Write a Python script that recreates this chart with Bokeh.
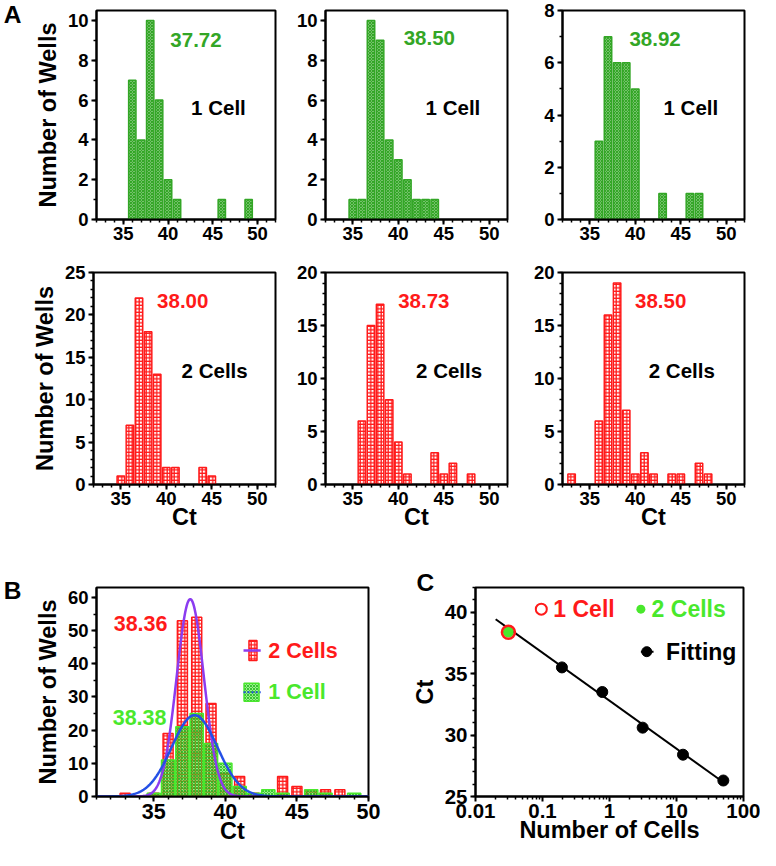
import numpy as np
from bokeh.plotting import figure
from bokeh.layouts import column, row
from bokeh.models import (Label, Range1d, SingleIntervalTicker, FixedTicker,
                          CustomJSTickFormatter, LinearAxis)
from bokeh.embed import file_html
from bokeh.resources import INLINE

FONT = "Liberation Sans"
GREEN_A = "#33a626"
RED = "#ff1a1a"
GREEN_B = "#49e82c"
PURPLE = "#8b3cf0"
BLUE = "#2450e6"

# ---------------- data ----------------
# Panel A, row 1: 1 cell (three runs) -- Ct bin centre / number of wells
a1_ct = [36, 37, 38, 39, 40, 41, 46, 49]
a1_n = [7, 4, 10, 6, 2, 1, 1, 1]
a2_ct = [35, 36, 37, 38, 39, 40, 41, 42, 43, 44]
a2_n = [1, 1, 10, 9, 4, 3, 2, 1, 1, 1]
a3_ct = [36, 37, 38, 39, 40, 43, 46, 47]
a3_n = [3, 7, 6, 6, 5, 1, 1, 1]
a_one_means = ["37.72", "38.50", "38.92"]

# Panel A, row 2: 2 cells (three runs)
a4_ct = [35, 36, 37, 38, 39, 40, 41, 44, 45]
a4_n = [1, 7, 22, 18, 13, 2, 2, 2, 1]
a5_ct = [36, 37, 38, 39, 40, 41, 44, 45, 46, 48]
a5_n = [6, 15, 17, 8, 4, 1, 3, 1, 2, 1]
a6_ct = [33, 36, 37, 38, 39, 40, 41, 42, 44, 45, 47, 48]
a6_n = [1, 6, 16, 19, 7, 1, 3, 1, 1, 1, 2, 1]
a_two_means = ["38.00", "38.73", "38.50"]

# Panel B: pooled histograms and Gaussian fits
b_two_ct = [33, 35, 36, 37, 38, 39, 40, 41, 42, 44, 45, 46, 47, 48]
b_two_n = [1, 1, 19, 53, 54, 28, 7, 6, 1, 6, 3, 2, 2, 2]
b_one_ct = [35, 36, 37, 38, 39, 40, 41, 42, 43, 44, 46, 47, 49]
b_one_n = [1, 11, 21, 25, 16, 10, 3, 1, 2, 1, 2, 1, 1]
b_fit_two = [59.5, 37.55, 0.95]   # amplitude, centre, sigma
b_fit_one = [24.5, 37.85, 1.6]
b_means = ["38.36", "38.38"]

# Panel C: standard curve
c_cells = [50, 12.5, 3.125, 0.78, 0.195]
c_ct = [26.3, 28.4, 30.6, 33.5, 35.5]
c_single_cells = [0.031]
c_one_ct = [38.36]
c_two_ct = [38.38]
c_fit_range = [0.02, 50]


# ---------------- helpers ----------------
def base_fig(w, h, bl, br, bt, bb, xr, yr, x_type="linear", xfs="18.5px", yfs="18.5px"):
    p = figure(width=w, height=h, x_range=xr, y_range=yr, x_axis_type=x_type,
               output_backend="svg", toolbar_location=None,
               min_border_left=bl, min_border_right=br,
               min_border_top=bt, min_border_bottom=bb)
    p.xgrid.visible = False
    p.ygrid.visible = False
    p.outline_line_color = "black"
    p.outline_line_width = 2
    p.outline_line_alpha = 1
    for ax, fs in ((p.xaxis[0], xfs), (p.yaxis[0], yfs)):
        ax.axis_line_width = 2
        ax.major_tick_line_width = 2
        ax.minor_tick_line_width = 1.5
        ax.major_tick_out = 5
        ax.major_tick_in = 0
        ax.minor_tick_out = 3
        ax.minor_tick_in = 0
        ax.major_label_text_font = FONT
        ax.major_label_text_font_style = "bold"
        ax.major_label_text_font_size = fs
        ax.major_label_text_color = "black"
        ax.major_label_standoff = 3
        ax.axis_label_text_font = FONT
        ax.axis_label_text_font_style = "bold"
        ax.axis_label_text_font_size = "23.5px"
        ax.axis_label_text_color = "black"
        ax.axis_label_standoff = 4
    p.xaxis[0].major_label_standoff = 2
    p.xaxis[0].axis_label_standoff = -4
    return p


def add_text(p, x, y, text, color, size, align="left"):
    p.add_layout(Label(x=x, y=y, text=text, text_color=color, text_font=FONT,
                       text_font_style="bold", text_font_size=size,
                       text_baseline="middle", text_align=align))


def panel_letter_axis(p, yval, letter, standoff):
    ax = LinearAxis(ticker=FixedTicker(ticks=[yval]),
                    formatter=CustomJSTickFormatter(code="return '%s'" % letter),
                    axis_line_color=None, major_tick_line_color=None,
                    minor_tick_line_color=None, major_tick_out=0, major_tick_in=0,
                    minor_tick_out=0, minor_tick_in=0,
                    major_label_standoff=standoff,
                    major_label_text_font=FONT, major_label_text_font_style="bold",
                    major_label_text_font_size="24.5px",
                    major_label_text_color="black")
    p.add_layout(ax, "left")


def hist_panel(w, h, bl, br, bt, bb, ymax, ystep, yminor, ct, n, kind,
               mean_txt, mean_xy, cell_txt, cell_xy, ylabel=None, xlabel=None):
    p = base_fig(w, h, bl, br, bt, bb, Range1d(32, 52), Range1d(0, ymax))
    p.xaxis.ticker = SingleIntervalTicker(interval=5, num_minor_ticks=5)
    p.yaxis.ticker = SingleIntervalTicker(interval=ystep, num_minor_ticks=yminor)
    if kind == "one":
        col = GREEN_A
        p.vbar(x=ct, top=n, bottom=0, width=0.82, fill_color="white",
               line_color=col, line_width=1.5, hatch_pattern="diagonal_cross",
               hatch_color=col, hatch_scale=3, hatch_weight=1.6)
    else:
        col = RED
        p.vbar(x=ct, top=n, bottom=0, width=0.82, fill_color="white",
               line_color=col, line_width=1.5, hatch_pattern="cross",
               hatch_color=col, hatch_scale=3.5, hatch_weight=1.3)
    add_text(p, mean_xy[0], mean_xy[1], mean_txt, col, "20.5px")
    add_text(p, cell_xy[0], cell_xy[1], cell_txt, "black", "20.5px")
    if ylabel:
        p.yaxis.axis_label = ylabel
    if xlabel:
        p.xaxis.axis_label = xlabel
    return p


# ---------------- panel A ----------------
p1 = hist_panel(284, 257, 93, 9, 10, 38, 10.5, 2, 2, a1_ct, a1_n, "one",
                a_one_means[0], (40.25, 9.04), "1 Cell", (42.57, 5.64),
                ylabel="Number of Wells")
p2 = hist_panel(235, 257, 41, 12, 10, 38, 10.5, 2, 2, a2_ct, a2_n, "one",
                a_one_means[1], (40.59, 9.11), "1 Cell", (43.0, 5.62))
p3 = hist_panel(241, 257, 43, 16, 10, 38, 8, 2, 2, a3_ct, a3_n, "one",
                a_one_means[2], (39.35, 6.92), "1 Cell", (43.1, 4.28))
p4 = hist_panel(284, 280, 93, 9, 15, 53, 25, 5, 5, a4_ct, a4_n, "two",
                a_two_means[0], (38.99, 21.6), "2 Cells", (41.68, 13.39),
                ylabel="Number of Wells", xlabel="Ct")
p5 = hist_panel(235, 280, 41, 12, 15, 53, 20, 5, 5, a5_ct, a5_n, "two",
                a_two_means[1], (39.99, 17.29), "2 Cells", (41.95, 10.71),
                xlabel="Ct")
p6 = hist_panel(241, 280, 43, 16, 15, 53, 20, 5, 5, a6_ct, a6_n, "two",
                a_two_means[2], (39.97, 17.29), "2 Cells", (41.48, 10.71),
                xlabel="Ct")
panel_letter_axis(p1, 10.3, "A", 10)

# ---------------- panel B ----------------
pB = base_fig(408, 313, 94, 40, 48, 54, Range1d(31, 50), Range1d(0, 63), xfs="21.5px")
pB.xaxis.ticker = SingleIntervalTicker(interval=5, num_minor_ticks=5)
pB.yaxis.ticker = SingleIntervalTicker(interval=10, num_minor_ticks=2)
pB.xaxis.axis_label = "Ct"
pB.yaxis.axis_label = "Number of Wells"
pB.vbar(x=b_two_ct, top=b_two_n, bottom=0, width=0.7, fill_color="white",
        line_color=RED, line_width=1.5, hatch_pattern="cross", hatch_color=RED,
        hatch_scale=3.5, hatch_weight=1.3)
pB.vbar(x=b_one_ct, top=b_one_n, bottom=0, width=0.92, fill_color=GREEN_B,
        fill_alpha=0.55, line_color=GREEN_B, line_width=1.5,
        hatch_pattern="diagonal_cross", hatch_color="#1fb81f", hatch_alpha=0.8,
        hatch_scale=3, hatch_weight=1)
xs = np.linspace(31, 50, 400)
y_two = b_fit_two[0] * np.exp(-(xs - b_fit_two[1]) ** 2 / (2 * b_fit_two[2] ** 2))
y_one = b_fit_one[0] * np.exp(-(xs - b_fit_one[1]) ** 2 / (2 * b_fit_one[2] ** 2))
pB.line(xs, y_two, line_color=PURPLE, line_width=2.5)
pB.line(xs, y_one, line_color=BLUE, line_width=2.5)
# legend swatches
pB.rect(x=[41.93], y=[44.0], width=8, height=20, width_units="screen",
        height_units="screen", fill_color="white", line_color=RED, line_width=1.5,
        hatch_pattern="cross", hatch_color=RED, hatch_scale=3.5, hatch_weight=1.3)
pB.line(x=[41.27, 42.47], y=[44.0, 44.0], line_color=PURPLE, line_width=2.5)
pB.rect(x=[41.83], y=[31.4], width=15, height=18, width_units="screen",
        height_units="screen", fill_color=GREEN_B, fill_alpha=0.55,
        line_color=GREEN_B, line_width=1.5, hatch_pattern="diagonal_cross",
        hatch_color="#1fb81f", hatch_alpha=0.8, hatch_scale=3, hatch_weight=1)
pB.line(x=[41.27, 42.47], y=[31.4, 31.4], line_color=BLUE, line_width=2,
        line_dash="2 2")
add_text(pB, 43.0, 44.0, "2 Cells", RED, "21.5px")
add_text(pB, 43.0, 31.4, "1 Cell", GREEN_B, "21.5px")
add_text(pB, 32.2, 52.2, b_means[0], RED, "21.5px")
add_text(pB, 32.13, 23.9, b_means[1], GREEN_B, "21.5px")
panel_letter_axis(pB, 62.0, "B", 10)

# ---------------- panel C ----------------
pC = base_fig(352, 313, 63, 17, 50, 54, Range1d(0.01, 100), Range1d(25, 42),
              x_type="log", xfs="20.5px", yfs="20.5px")
pC.xaxis.ticker = FixedTicker(ticks=[0.01, 0.1, 1, 10, 100],
                              minor_ticks=[k * 10.0 ** e for e in range(-2, 2)
                                           for k in range(2, 10)])
pC.xaxis.formatter = CustomJSTickFormatter(code="return String(tick)")
pC.yaxis.ticker = SingleIntervalTicker(interval=5, num_minor_ticks=5)
pC.xaxis.axis_label = "Number of Cells"
pC.yaxis.axis_label = "Ct"
slope, icpt = np.polyfit(np.log10(c_cells), c_ct, 1)
fit_y = [slope * np.log10(v) + icpt for v in c_fit_range]
pC.line(c_fit_range, fit_y, line_color="black", line_width=2)
pC.scatter(c_cells, c_ct, size=11, fill_color="black", line_color="black")
pC.scatter(c_single_cells, c_two_ct, size=11, fill_color=GREEN_B, line_color=None)
pC.scatter(c_single_cells, c_one_ct, size=13, fill_color=None, line_color=RED,
           line_width=2.5)
# legend
pC.scatter([0.096], [40.24], size=11, fill_color=None, line_color=RED, line_width=2)
pC.scatter([2.94], [40.24], size=9, fill_color=GREEN_B, line_color=None)
pC.line([2.94, 4.54], [36.78, 36.78], line_color="black", line_width=2)
pC.scatter([3.6], [36.78], size=10, fill_color="black", line_color="black")
add_text(pC, 0.145, 40.24, "1 Cell", RED, "23px")
add_text(pC, 4.25, 40.24, "2 Cells", GREEN_B, "23px")
add_text(pC, 7.0, 36.78, "Fitting", "black", "23px")
# panel letter C as a left-aligned title shifted over the axis area
pC.title.text = "C"
pC.title.align = "left"
pC.title.offset = -59
pC.title.vertical_align = "top"
pC.title.standoff = -20
pC.title.text_font = FONT
pC.title.text_font_style = "bold"
pC.title.text_font_size = "24.5px"
pC.title.text_color = "black"

layout = column(row(p1, p2, p3), row(p4, p5, p6), row(pB, pC))
open("out.html", "w").write(file_html(layout, INLINE))
